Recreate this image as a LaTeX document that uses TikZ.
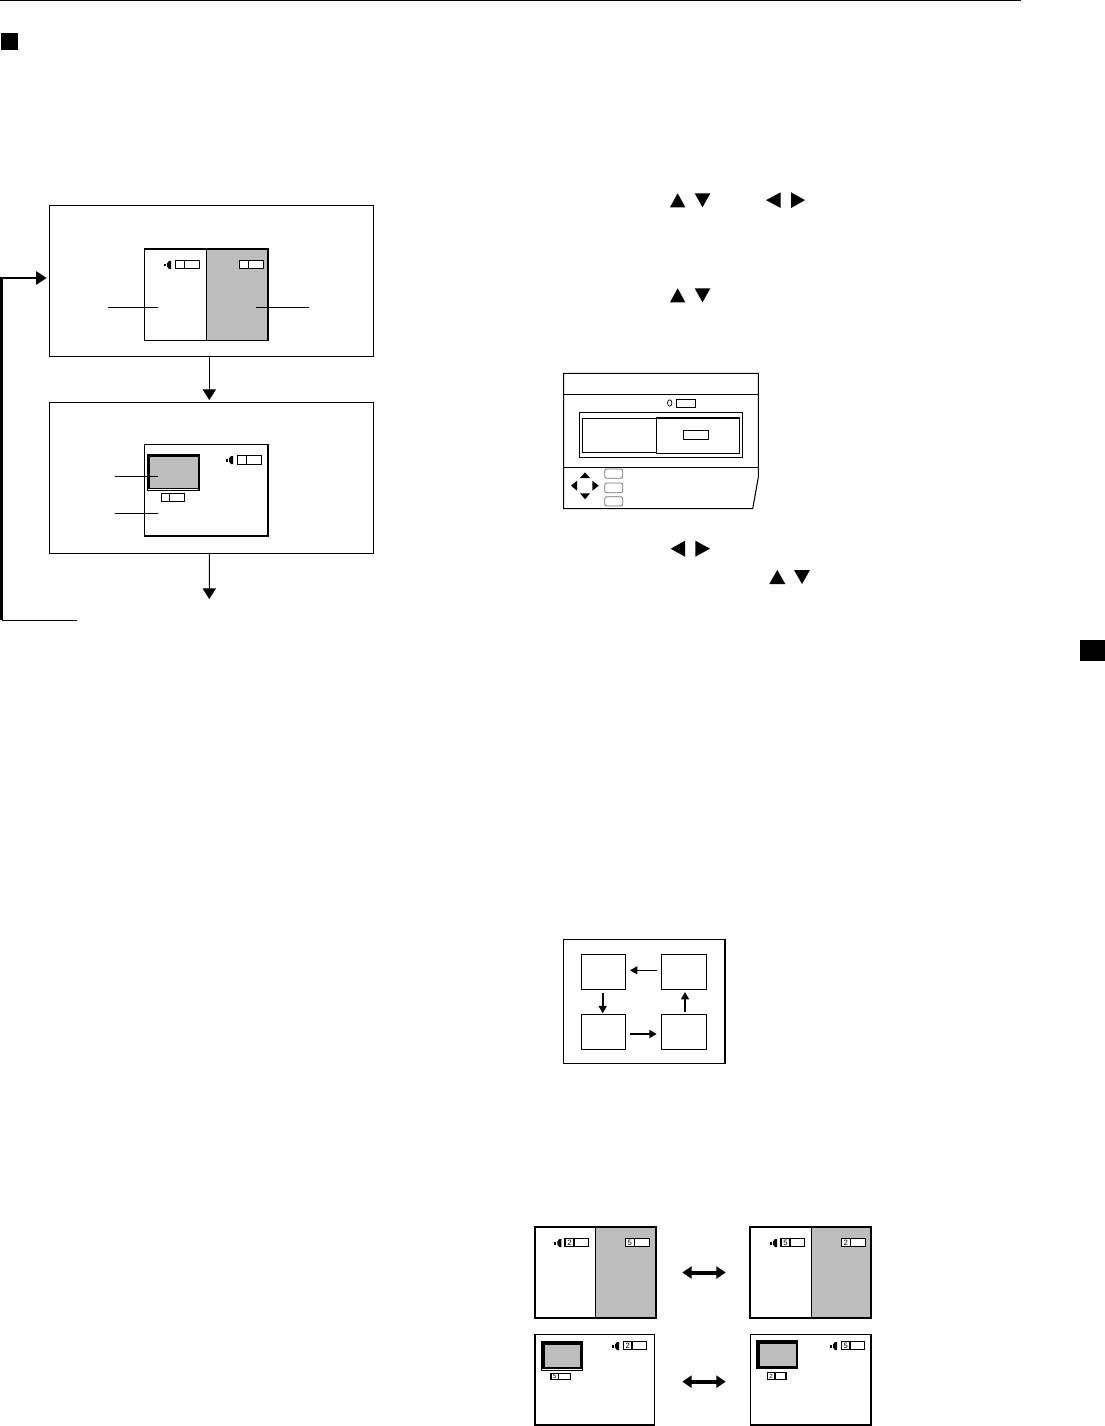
\documentclass[tikz,border=0pt]{standalone}
\usepackage{fontspec}
\setmainfont{Liberation Sans}
\usepackage{xcolor}
\usepackage{tikz}
\usetikzlibrary{arrows.meta, calc}
\definecolor{scrGrey}{HTML}{bdbdbd}
\definecolor{btnLine}{HTML}{707070}
\newlength{\px}
\setlength{\px}{0.75pt}
% box from its corners, given in reference pixels
\newcommand{\pane}[6][]{\node[pnl, #1, minimum width={(#4-#2)*\px}, minimum height={(#5-#3)*\px}] (#6) at ({(#2+#4)/2},{(#3+#5)/2}) {};}
% level field with a divider and an optional digit
\newcommand{\lvl}[8][5.8pt]{\pane{#3}{#4}{#5}{#6}{#8}\draw[thin1] (#2,#4) -- (#2,#6);\node[dgt, font=\fontsize{#1}{#1}\selectfont] (#8t) at ({(#3+#2)/2},{(#4+#6)/2}) {#7};}
\newcommand{\spk}[2]{\fill (#1,#2+3) rectangle (#1+1.8,#2+5.5);\fill (#1+3,#2+2.5) -- (#1+5,#2) -- (#1+7,#2) -- (#1+7,#2+8) -- (#1+5,#2+8) -- (#1+3,#2+5.5) -- cycle;}
\newcommand{\triup}[4]{\fill (#1,#4) -- (#2,#4) -- ({(#1+#2)/2},#3) -- cycle;}
\newcommand{\tridn}[4]{\fill (#1,#3) -- (#2,#3) -- ({(#1+#2)/2},#4) -- cycle;}
\newcommand{\trilf}[4]{\fill (#2,#3) -- (#2,#4) -- (#1,{(#3+#4)/2}) -- cycle;}
\newcommand{\trirt}[4]{\fill (#1,#3) -- (#1,#4) -- (#2,{(#3+#4)/2}) -- cycle;}
\begin{document}
\begin{tikzpicture}[x=1\px,y=-1\px,pnl/.style={draw, fill=white, line width=0.8pt, inner sep=0pt, outer sep=0pt},thin1/.style={line width=0.8pt},thick1/.style={line width=1.5pt},dgt/.style={inner sep=0pt, outer sep=0pt},flowarr/.style={line width=0.8pt, -{Triangle[length=8pt,width=10pt]}},smallarr/.style={-{Triangle[length=5.5pt,width=6pt]}},dblarr/.style={line width=3pt, {Triangle[length=7pt,width=9pt]}-{Triangle[length=7pt,width=9pt]}}]
\useasboundingbox (0,0) rectangle (1105,1426);
% page marks
\fill (0,0) rectangle (1021,1.5);
\fill (1,33) rectangle (18,50);
\fill (1080,640) rectangle (1105,661);
% left column
\pane{49.5}{205.5}{373.5}{356.5}{modeA}
\pane{49.5}{402.5}{373.5}{553.5}{modeB}
\pane{144.5}{249}{268}{340.5}{viewA}
\fill[scrGrey] (206.5,249) rectangle (268,340.5);
\draw[thin1] (206.5,249) -- (206.5,340.5);
\draw[thin1] (viewA.north east) rectangle (viewA.south west);
\draw[thick1] (viewA.north west) -- (viewA.north east) -- (viewA.south east);
\spk{164}{261}
\lvl{184.3}{175.3}{260.3}{199.7}{268.7}{}{fldA}
\lvl{248.7}{239.3}{260.3}{263.7}{268.7}{}{fldB}
\pane{144.5}{444.5}{268}{536}{viewB}
\draw[thick1] (viewB.north east) -- (viewB.south east) -- (viewB.south west);
\pane{147.7}{454.7}{199}{490.5}{subB}
\pane[fill=black, draw=none]{147.3}{454.3}{199.4}{489}{subBedge}
\pane[fill=scrGrey, draw=none]{149.7}{456.7}{197.7}{488.3}{subBin}
\spk{226}{456}
\lvl{246.7}{237.3}{455.7}{261.7}{464.3}{}{fldC}
\lvl{169.7}{161.3}{493.3}{184.7}{501.7}{}{fldD}
% leaders
\coordinate (ldA) at (108,307.3);
\coordinate (ldAe) at (158.3,307.3);
\coordinate (ldB) at (309,307.3);
\coordinate (ldBe) at (255.7,307.3);
\coordinate (ldC) at (115,476);
\coordinate (ldCe) at (158.3,476);
\coordinate (ldD) at (115,513.3);
\coordinate (ldDe) at (158.3,513.3);
\draw[line width=0.6pt] (ldA) -- (ldAe);
\draw[line width=0.6pt] (ldB) -- (ldBe);
\draw[line width=0.6pt] (ldC) -- (ldCe);
\draw[line width=0.6pt] (ldD) -- (ldDe);
% flow
\coordinate (outEnd) at (209.3,599);
\coordinate (loopTip) at (46.7,278);
\coordinate (loopTop) at (1.5,278);
\coordinate (loopBot) at (1.5,620.3);
\coordinate (loopEnd) at (77,620.3);
\draw[flowarr] ([xshift=-2.2\px]modeA.south) -- ([xshift=-2.2\px,yshift=2.5\px]modeB.north);
\draw[flowarr] ([xshift=-2.2\px]modeB.south) -- (outEnd);
\draw[thin1] (loopEnd) -- (loopBot);
\draw[thick1, -{Triangle[length=8pt,width=10pt]}] (loopBot) -- (loopTop) -- (loopTip);
% key triangles
\triup{670}{685.3}{193.3}{207.3}
\tridn{694.7}{710.3}{193.3}{207.3}
\trilf{766}{780.7}{192.3}{208}
\trirt{791}{805}{192.3}{208}
\triup{670}{685.3}{288.3}{302.3}
\tridn{694.7}{710.3}{288.3}{302.3}
\trilf{670.7}{685}{540.7}{556.7}
\trirt{695.3}{710}{540.7}{556.7}
\triup{769.3}{785.3}{570}{584}
\tridn{794}{810}{570}{584}
% menu panel
\draw[thin1] (563.7,373.3) -- (758.3,373.3) -- (758.3,477.3) -- (752.7,508.7) -- (563.7,508.7) -- cycle;
\draw[thin1] (563.7,394.3) -- (758.3,394.3);
\draw[thin1] (563.7,467.3) -- (758.3,467.3);
\draw[line width=0.5pt] (669.7,403) ellipse (2.2 and 3.2);
\pane{676.3}{399.3}{695.7}{407.7}{menuFld}
\pane{579.3}{412.3}{742.7}{457.3}{menuFrm}
\pane{582.3}{418.3}{739.3}{452.3}{menuIn}
\pane{656.3}{417.7}{739.5}{453.3}{menuSel}
\draw[line width=1.2pt] (menuSel.north west) -- (menuSel.north east);
\draw[line width=1.2pt] (menuSel.south west) -- (menuSel.south east);
\pane{683.3}{430.3}{708.7}{439.7}{menuVal}
\triup{580}{590}{472.3}{478}
\trilf{571}{577}{480.7}{490.7}
\trirt{592.3}{598.7}{480.7}{490.7}
\tridn{580}{590}{493.3}{499.3}
\pane[draw=btnLine, rounded corners=1.5pt, line width=0.6pt]{604.7}{469}{622.7}{478.3}{btnA}
\pane[draw=btnLine, rounded corners=1.5pt, line width=0.6pt]{604.7}{483}{622.7}{492.7}{btnB}
\pane[draw=btnLine, rounded corners=1.5pt, line width=0.6pt]{604.7}{496.7}{622.7}{506}{btnC}
% rotation diagram
\pane{563.7}{939.3}{725}{1063.3}{quad}
\pane[line width=1pt]{581.7}{954.3}{625.3}{989.3}{posTL}
\pane[line width=1pt]{661.7}{954.3}{706.3}{989.3}{posTR}
\pane[line width=1pt]{581.7}{1014.7}{625.3}{1049.3}{posBL}
\pane[line width=1pt]{661.7}{1014.7}{706.3}{1049.3}{posBR}
\draw[smallarr, line width=0.6pt, shorten <=4.7\px, shorten >=4.7\px] ([yshift=1.5\px]posTR.west) -- ([yshift=1.5\px]posTL.east);
\draw[smallarr, line width=1.2pt, shorten <=3.4\px, shorten >=1.4\px] ([xshift=-0.8\px]posTL.south) -- ([xshift=-0.8\px]posBL.north);
\draw[smallarr, line width=1.4pt, shorten <=4.7\px, shorten >=5\px] ([yshift=-2\px]posBL.east) -- ([yshift=-2\px]posBR.west);
\draw[smallarr, line width=0.9pt, shorten <=2.7\px, shorten >=2.7\px] ([xshift=1\px]posBR.north) -- ([xshift=1\px]posTR.south);
% swap examples
\pane{535}{1227}{656}{1318}{swapA}
\fill[scrGrey] (595.3,1227) rectangle (656,1318);
\draw[thick1] (535,1227) rectangle (656,1318);
\draw[thin1] (595.3,1227) -- (595.3,1318);
\spk{554.3}{1239}
\lvl{574}{565}{1238.7}{588.7}{1246.7}{2}{fldE}
\lvl{634.3}{625.3}{1238.7}{649.7}{1246.7}{5}{fldF}
\pane{750}{1227}{870.7}{1318}{swapB}
\fill[scrGrey] (811.3,1227) rectangle (870.7,1318);
\draw[thick1] (750,1227) rectangle (870.7,1318);
\draw[thin1] (811.3,1227) -- (811.3,1318);
\spk{770}{1239}
\lvl{790}{781}{1238.7}{804.7}{1246.7}{5}{fldG}
\lvl{850.3}{841.3}{1238.7}{865.7}{1246.7}{2}{fldH}
\pane{535}{1334.3}{654.7}{1425}{swapC}
\pane{541.5}{1341.5}{582.2}{1370.5}{subC}
\pane[fill=black, draw=none]{541}{1341}{582.7}{1368.7}{subCedge}
\pane[fill=scrGrey, draw=none]{544.7}{1344.7}{580}{1367}{subCin}
\spk{612}{1342}
\lvl{632}{623.3}{1341.3}{646.7}{1349.7}{2}{fldI}
\lvl[4.6pt]{558.7}{551}{1373.3}{570.7}{1379.7}{5}{fldJ}
\pane{750.7}{1334.3}{871}{1425}{swapD}
\pane[fill=black, draw=none]{756}{1340}{797.7}{1369}{subDedge}
\pane[fill=scrGrey, draw=none]{759.7}{1343.7}{795.7}{1365.7}{subD}
\spk{830}{1342}
\lvl{850}{841.3}{1341.3}{864.7}{1349.7}{5}{fldK}
\lvl[4.6pt]{775}{767.3}{1372.3}{786}{1379.7}{2}{fldL}
\draw[dblarr, shorten <=26.3\px, shorten >=24.3\px] (swapA.east) -- (swapB.west);
\draw[dblarr, shorten <=27.6\px, shorten >=25\px] ([yshift=-2\px]swapC.east) -- ([yshift=-2\px]swapD.west);
\end{tikzpicture}
\end{document}
